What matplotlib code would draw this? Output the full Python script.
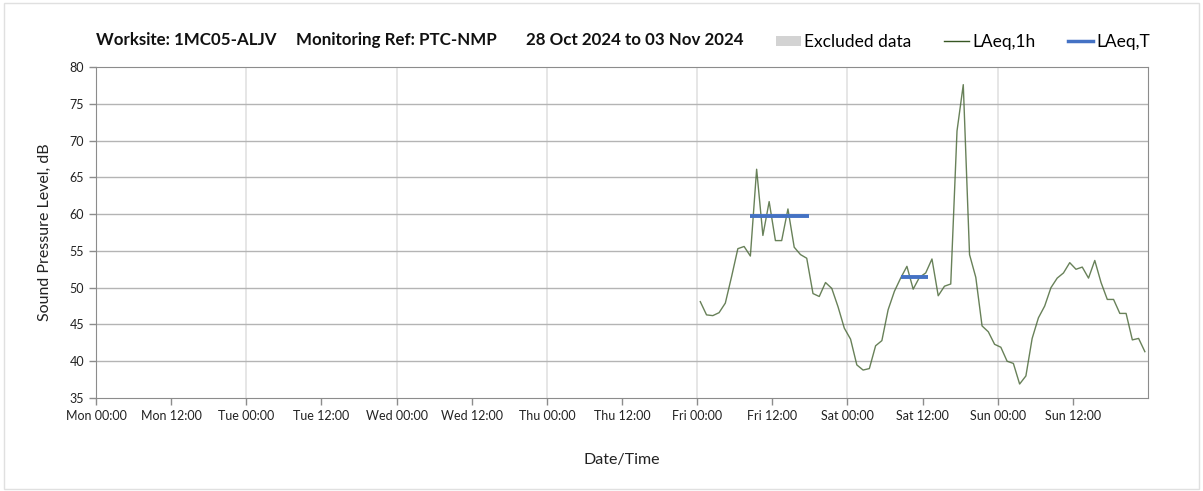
import numpy as np
import matplotlib
matplotlib.use('Agg')
import matplotlib.pyplot as plt
from matplotlib.lines import Line2D
from matplotlib.patches import Patch, Rectangle

# hourly LAeq,1h values starting Fri 00:30 (hours since Mon 00:00)
laeq_1h = [48.1, 46.3, 46.2, 46.6, 47.9, 51.5, 55.3, 55.6, 54.3, 66.1,
           57.1, 61.7, 56.4, 56.4, 60.7, 55.5, 54.5, 54.0, 49.2, 48.8,
           50.7, 49.9, 47.4, 44.5, 43.0, 39.5, 38.8, 39.0, 42.1, 42.8,
           47.0, 49.5, 51.3, 52.9, 49.8, 51.4, 52.0, 53.9, 48.9, 50.2,
           50.5, 71.3, 77.6, 54.5, 51.4, 44.8, 44.0, 42.3, 41.9, 40.0,
           39.7, 36.9, 38.0, 43.1, 45.9, 47.5, 50.0, 51.3, 52.0, 53.4,
           52.5, 52.8, 51.3, 53.7, 50.7, 48.4, 48.4, 46.5, 46.5, 42.9,
           43.1, 41.3]
start_hour = 96.5
hours = start_hour + np.arange(len(laeq_1h))

# LAeq,T periods: (start hour, end hour, level)
laeq_t_start = [104.5, 128.6]
laeq_t_end = [113.9, 132.9]
laeq_t_level = [59.75, 51.5]

tick_labels = ['Mon 00:00', 'Mon 12:00', 'Tue 00:00', 'Tue 12:00', 'Wed 00:00',
               'Wed 12:00', 'Thu 00:00', 'Thu 12:00', 'Fri 00:00', 'Fri 12:00',
               'Sat 00:00', 'Sat 12:00', 'Sun 00:00', 'Sun 12:00']

title_parts = ['Worksite: 1MC05-ALJV', 'Monitoring Ref: PTC-NMP',
               '28 Oct 2024 to 03 Nov 2024']

plt.rcParams['font.family'] = ['Lato', 'DejaVu Sans']

fig = plt.figure(figsize=(12.03, 4.91), dpi=100)
ax = fig.add_axes([96/1203, 1-398/491, (1148-96)/1203, (398-67)/491])

green = '#4e6b3c'
blue = '#4472C4'

ax.plot(hours, laeq_1h, color=green, lw=1, alpha=0.85, zorder=3)
for s, e, lv in zip(laeq_t_start, laeq_t_end, laeq_t_level):
    ax.plot([s, e], [lv, lv], color=blue, lw=2.8, solid_capstyle='butt', zorder=4)

ax.set_xlim(0, 168)
ax.set_ylim(35, 80)
ax.set_xticks(np.arange(0, 168, 12))
ax.set_xticklabels(tick_labels, fontsize=9, color='#222222')
ax.set_yticks(np.arange(35, 81, 5))
ax.set_yticklabels([str(v) for v in range(35, 81, 5)], fontsize=9, color='#222222')

for y in range(40, 80, 5):
    ax.axhline(y, color='#b4b4b4', lw=1, zorder=1)
for d in range(24, 168, 24):
    ax.axvline(d, color='#e2e2e2', lw=1.2, zorder=0)

for sp in ax.spines.values():
    sp.set_color('#8c8c8c')
ax.tick_params(axis='both', colors='#8c8c8c', labelcolor='#222222', length=5, width=1)
ax.tick_params(axis='x', pad=4)

ax.set_ylabel('Sound Pressure Level, dB', fontsize=11.5, color='#222222', labelpad=13)
ax.set_xlabel('Date/Time', fontsize=11.5, color='#222222', labelpad=22)

for xpos, part in zip([96, 296, 526], title_parts):
    fig.text(xpos/1203, 1-40/491, part, fontsize=12.2, fontweight='bold',
             color='#111111', va='center', ha='left')

handles = [Patch(facecolor='#d3d3d3', edgecolor='none'),
           Line2D([0], [0], color='#375623', lw=1),
           Line2D([0], [0], color=blue, lw=2.5)]
fig.legend(handles, ['Excluded data', 'LAeq,1h', 'LAeq,T'], ncol=3,
           loc='center', bbox_to_anchor=(963/1203, 1-42/491), frameon=False,
           fontsize=12.5, handlelength=1.45, handletextpad=0.15, columnspacing=1.9,
           handleheight=0.55)

fig.patches.append(Rectangle((4/1203, 2/491), 1195/1203, 486/491,
                             transform=fig.transFigure, fill=False,
                             edgecolor='#e0e0e0', lw=1))

fig.savefig('out.png', dpi=100)
